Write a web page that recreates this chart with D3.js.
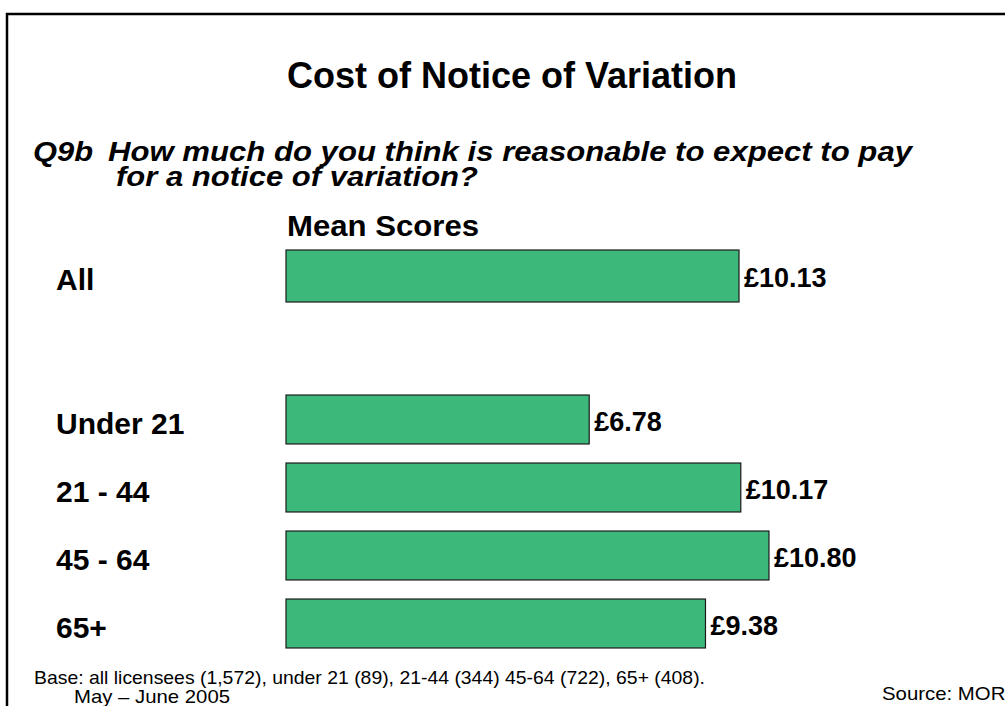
<!DOCTYPE html>
<html>
<head>
<meta charset="utf-8">
<script src="https://cdn.jsdelivr.net/npm/d3@7"></script>
<style>
  body { margin: 0; background: #fff; }
  svg { display: block; font-family: "Liberation Sans", Arial, sans-serif; }
</style>
</head>
<body>
<div id="chart"></div>
<script>
// data
var overallLabel = "All";
var overallValue = 10.13;
var ageGroups = ["Under 21", "21 - 44", "45 - 64", "65+"];
var ageValues = [6.78, 10.17, 10.80, 9.38];

var svgWidth = 1005;
var svgHeight = 706;

var svg = d3.select("#chart")
    .append("svg")
    .attr("width", svgWidth)
    .attr("height", svgHeight);

// slide frame (runs off the right and bottom edge)
svg.append("rect")
    .attr("x", 7)
    .attr("y", 14)
    .attr("width", 1100)
    .attr("height", 800)
    .attr("fill", "none")
    .attr("stroke", "#000")
    .attr("stroke-width", 2.5);

// titles
svg.append("text")
    .attr("x", 512)
    .attr("y", 88)
    .attr("text-anchor", "middle")
    .attr("font-size", "36px")
    .attr("font-weight", "bold")
    .text("Cost of Notice of Variation");

var question = svg.append("g")
    .attr("font-size", "28px")
    .attr("font-weight", "bold")
    .attr("font-style", "italic");

question.append("text").attr("x", 33).attr("y", 161)
    .attr("textLength", 60).attr("lengthAdjust", "spacingAndGlyphs")
    .text("Q9b");
question.append("text").attr("x", 108).attr("y", 161)
    .attr("textLength", 804).attr("lengthAdjust", "spacingAndGlyphs")
    .text("How much do you think is reasonable to expect to pay");
question.append("text").attr("x", 116).attr("y", 186)
    .attr("textLength", 362).attr("lengthAdjust", "spacingAndGlyphs")
    .text("for a notice of variation?");

svg.append("text")
    .attr("x", 287)
    .attr("y", 236)
    .attr("font-size", "29px")
    .attr("font-weight", "bold")
    .attr("textLength", 192).attr("lengthAdjust", "spacingAndGlyphs")
    .text("Mean Scores");

// scales
var xScale = d3.scaleLinear()
    .domain([0, 10])
    .range([286, 733.2]);

var yAll = d3.scaleBand()
    .domain([overallLabel])
    .range([250, 302]);

var yAge = d3.scaleBand()
    .domain(ageGroups)
    .range([385.5, 657.5])
    .paddingInner(0.28)
    .paddingOuter(0.14);

var rows = [{ label: overallLabel, value: overallValue, y: yAll(overallLabel), h: yAll.bandwidth() }]
    .concat(ageGroups.map(function(g, i) {
        return { label: g, value: ageValues[i], y: yAge(g), h: yAge.bandwidth() };
    }));

var barGroup = svg.append("g");

barGroup.selectAll("rect")
    .data(rows)
    .enter()
    .append("rect")
    .attr("x", xScale(0))
    .attr("y", d => d.y)
    .attr("width", d => xScale(d.value) - xScale(0))
    .attr("height", d => d.h)
    .attr("fill", "#3cb87a")
    .attr("stroke", "#1a1a1a")
    .attr("stroke-width", 1.2);

// category labels
barGroup.selectAll(".cat")
    .data(rows)
    .enter()
    .append("text")
    .attr("class", "cat")
    .attr("x", 56)
    .attr("y", d => d.y + d.h / 2 + 14)
    .attr("font-size", "30px")
    .attr("font-weight", "bold")
    .text(d => d.label);

// value labels
barGroup.selectAll(".val")
    .data(rows)
    .enter()
    .append("text")
    .attr("class", "val")
    .attr("x", d => xScale(d.value) + 5)
    .attr("y", d => d.y + d.h / 2 + 11)
    .attr("font-size", "27px")
    .attr("font-weight", "bold")
    .text(d => "£" + d.value.toFixed(2));

// footnotes
svg.append("text")
    .attr("x", 34)
    .attr("y", 684)
    .attr("font-size", "19px")
    .attr("textLength", 671).attr("lengthAdjust", "spacingAndGlyphs")
    .text("Base: all licensees (1,572), under 21 (89), 21-44 (344) 45-64 (722), 65+ (408).");

svg.append("text")
    .attr("x", 74)
    .attr("y", 703)
    .attr("font-size", "19px")
    .attr("textLength", 156).attr("lengthAdjust", "spacingAndGlyphs")
    .text("May \u2013 June 2005");

svg.append("text")
    .attr("x", 882)
    .attr("y", 700)
    .attr("font-size", "19px")
    .attr("textLength", 129).attr("lengthAdjust", "spacingAndGlyphs")
    .text("Source: MORI");
</script>
</body>
</html>
